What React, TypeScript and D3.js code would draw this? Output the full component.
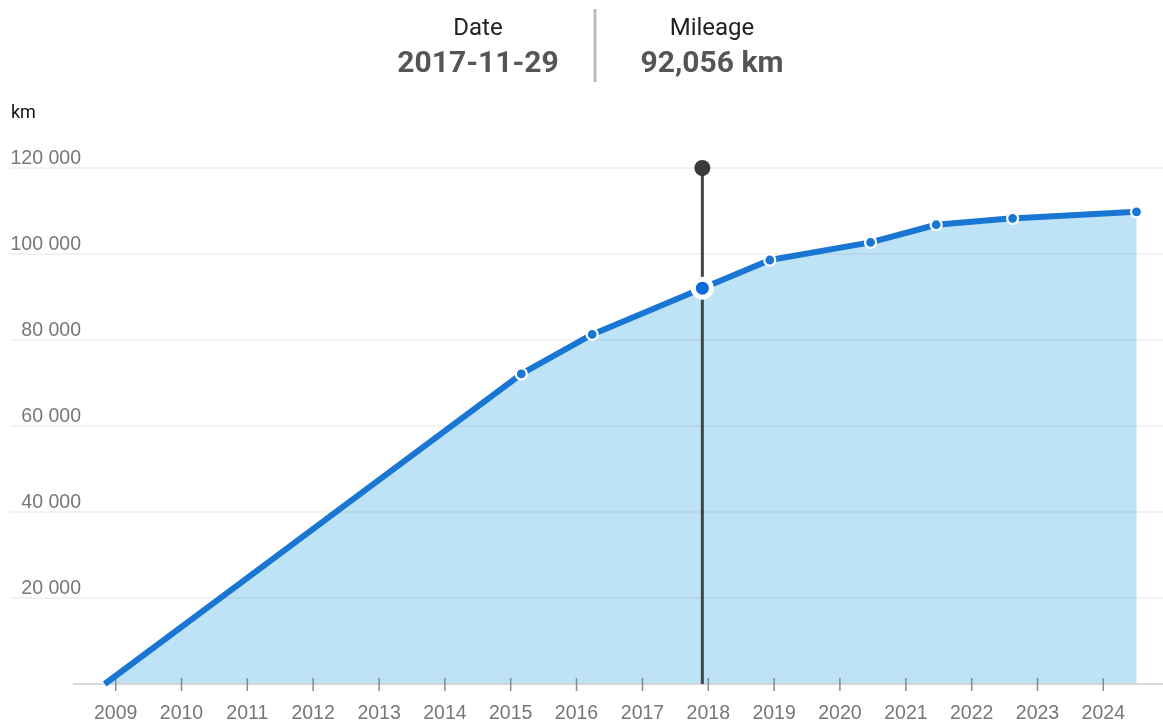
import React from 'react';
import * as d3 from 'd3';

// odometer readings (date, km)
const readingDates = ['2008-11-01', '2015-03-01', '2016-03-28', '2017-11-29', '2018-12-08', '2020-06-19', '2021-06-18', '2022-08-16', '2024-07-03'];
const mileage = [0, 72100, 81300, 92056, 98600, 102700, 106800, 108300, 109800];
const yTicks = [20000, 40000, 60000, 80000, 100000, 120000];
const selectedIndex = 3;

const width = 1163;
const height = 725;
const font = 'Roboto, "Noto Sans", sans-serif';
const axisFont = '"Liberation Sans", Arial, sans-serif';

const parse = d3.timeParse('%Y-%m-%d');

const App: React.FC = () => {
  const points = readingDates.map((d, i) => ({ date: parse(d) as Date, value: mileage[i] }));

  const x = d3.scaleTime()
    .domain([new Date(2009, 0, 1), new Date(2024, 0, 1)])
    .range([115.7, 1103.3]);

  const y = d3.scaleLinear()
    .domain([0, 120000])
    .range([684, 168]);

  const line = d3.line<{ date: Date; value: number }>()
    .x(d => x(d.date))
    .y(d => y(d.value));

  const area = d3.area<{ date: Date; value: number }>()
    .x(d => x(d.date))
    .y0(y(0))
    .y1(d => y(d.value));

  const years = x.ticks(d3.timeYear.every(1)!);
  const fmt = (v: number) => d3.format(',')(v).replace(/,/g, ' ');
  const sel = points[selectedIndex];

  return (
    <div style={{ position: 'fixed', left: 0, top: 0 }}>
      <svg width={width} height={height} style={{ display: 'block', fontFamily: font }}>
        {/* header */}
        <text x={478} y={35} textAnchor="middle" fontSize={24} fill="#222">Date</text>
        <text x={478} y={72} textAnchor="middle" fontSize={30} fontWeight="bold" fill="#555">
          {d3.timeFormat('%Y-%m-%d')(sel.date)}
        </text>
        <line x1={595} x2={595} y1={9} y2={82} stroke="#bbb" strokeWidth={3} />
        <text x={712} y={35} textAnchor="middle" fontSize={24} fill="#222">Mileage</text>
        <text x={712} y={72} textAnchor="middle" fontSize={30} fontWeight="bold" fill="#555">
          {d3.format(',')(sel.value)} km
        </text>

        <text x={11} y={118} fontSize={18} fill="#111">km</text>

        <path d={area(points) || ''} fill="#bee3f6" />

        {yTicks.map(t => (
          <g key={t}>
            <line x1={10} x2={width} y1={y(t)} y2={y(t)} stroke="rgba(0,0,0,0.07)" strokeWidth={1.5} />
            <text x={81} y={y(t) - 4} textAnchor="end" fontSize={19.5} fontFamily={axisFont} fill="#777">{fmt(t)}</text>
          </g>
        ))}

        {/* x axis */}
        <line x1={73} x2={width} y1={y(0)} y2={y(0)} stroke="#ccc" strokeWidth={1.5} />
        {years.map(d => (
          <g key={d.getFullYear()} transform={`translate(${x(d)},0)`}>
            <line y1={678} y2={691} stroke="#888" strokeWidth={1.5} />
            <text y={719} textAnchor="middle" fontSize={19.5} fontFamily={axisFont} fill="#777">{d.getFullYear()}</text>
          </g>
        ))}

        {/* selection cursor */}
        <line x1={x(sel.date)} x2={x(sel.date)} y1={y(120000)} y2={y(0)} stroke="#444" strokeWidth={3} />
        <circle cx={x(sel.date)} cy={y(120000)} r={8} fill="#3a3a3a" />

        <path d={line(points) || ''} fill="none" stroke="#1976d2" strokeWidth={6} strokeLinejoin="round" />

        {points.slice(1).map((p, i) => (
          i + 1 === selectedIndex ? null : (
            <circle key={i} cx={x(p.date)} cy={y(p.value)} r={5.5} fill="#1976d2" stroke="#fff" strokeWidth={2.2} />
          )
        ))}
        <circle cx={x(sel.date)} cy={y(sel.value)} r={9} fill="#0b6bd8" stroke="#fff" strokeWidth={5} />
      </svg>
    </div>
  );
};

export default App;
